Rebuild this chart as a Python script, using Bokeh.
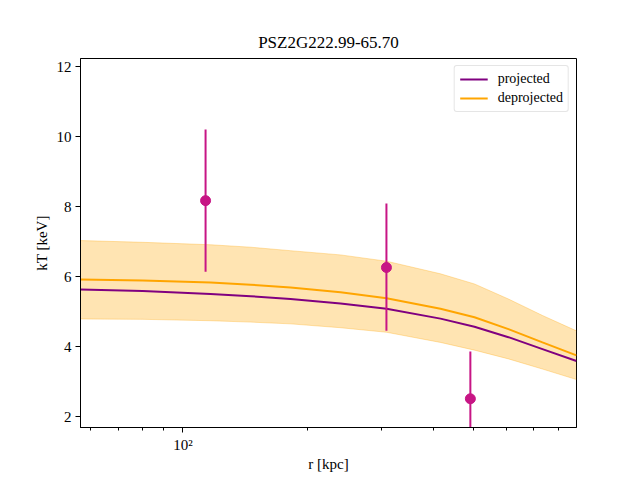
from bokeh.plotting import figure
from bokeh.models import Range1d, FixedTicker, ColumnDataSource, Legend, LegendItem
from bokeh.embed import file_html
from bokeh.resources import INLINE

title = "PSZ2G222.99-65.70"

# model curves (radius in kpc)
r_model = [56.7, 80, 116.6, 145.6, 181.6, 239.6, 309.2, 416.9, 503.3, 607.6, 733.7, 885.8]
kt_projected = [5.63, 5.59, 5.50, 5.44, 5.36, 5.23, 5.08, 4.80, 4.57, 4.27, 3.93, 3.59]
kt_deprojected = [5.92, 5.89, 5.83, 5.77, 5.69, 5.55, 5.38, 5.08, 4.84, 4.50, 4.12, 3.75]
kt_deproj_upper = [7.03, 6.98, 6.91, 6.84, 6.74, 6.62, 6.44, 6.08, 5.79, 5.36, 4.89, 4.45]
kt_deproj_lower = [4.79, 4.78, 4.74, 4.70, 4.65, 4.54, 4.41, 4.12, 3.90, 3.65, 3.36, 3.06]

# measured points
r_data = [113.4, 309.0, 492.0]
kt_data = [8.17, 6.26, 2.51]
kt_data_lo = [6.14, 4.45, 1.15]
kt_data_hi = [10.2, 8.09, 3.86]

y_ticks = [2, 4, 6, 8, 10, 12]
x_major = [100]
x_minor = [60, 70, 80, 90, 200, 300, 400, 500, 600, 700, 800]

FONT = "Liberation Serif"

p = figure(width=640, height=480, x_axis_type="log", output_backend="svg",
           toolbar_location=None, title=title,
           x_range=Range1d(56.7, 886), y_range=Range1d(1.69, 12.23),
           min_border_left=80, min_border_right=64, min_border_top=58,
           min_border_bottom=53)
p.background_fill_color = "white"
p.border_fill_color = "white"
p.outline_line_color = "black"
p.outline_line_width = 1
p.xgrid.visible = False
p.ygrid.visible = False

p.title.align = "center"
p.title.text_font = FONT
p.title.text_font_size = "17px"
p.title.text_font_style = "normal"
p.title.text_color = "black"
p.title.standoff = 13

for ax in (p.xaxis[0], p.yaxis[0]):
    ax.major_label_text_font = FONT
    ax.major_label_text_font_size = "15px"
    ax.major_label_text_color = "black"
    ax.axis_label_text_font = FONT
    ax.axis_label_text_font_size = "15px"
    ax.axis_label_text_font_style = "normal"
    ax.axis_label_text_color = "black"
    ax.major_tick_in = 0
    ax.major_tick_out = 5
    ax.minor_tick_in = 0
    ax.minor_tick_out = 3
    ax.axis_line_color = "black"
    ax.major_tick_line_color = "black"
    ax.minor_tick_line_color = "black"
    ax.major_label_standoff = 4

p.xaxis.ticker = FixedTicker(ticks=x_major, minor_ticks=x_minor)
p.xaxis.major_label_overrides = {100: "10²"}
p.xaxis.axis_label = "r [kpc]"
p.xaxis.axis_label_standoff = 0
p.yaxis.ticker = FixedTicker(ticks=y_ticks, minor_ticks=[])
p.yaxis.axis_label = "kT [keV]"
p.yaxis.axis_label_standoff = 4

src = ColumnDataSource(dict(r=r_model, proj=kt_projected, deproj=kt_deprojected,
                            up=kt_deproj_upper, lo=kt_deproj_lower))

p.varea(x="r", y1="lo", y2="up", source=src, fill_color="orange", fill_alpha=0.3)
p.line(x="r", y="up", source=src, line_color="orange", line_alpha=0.3, line_width=1)
p.line(x="r", y="lo", source=src, line_color="orange", line_alpha=0.3, line_width=1)
l_proj = p.line(x="r", y="proj", source=src, line_color="purple", line_width=2)
l_deproj = p.line(x="r", y="deproj", source=src, line_color="orange", line_width=2)

dsrc = ColumnDataSource(dict(r=r_data, kt=kt_data, lo=kt_data_lo, hi=kt_data_hi))
p.segment(x0="r", y0="lo", x1="r", y1="hi", source=dsrc,
          line_color="mediumvioletred", line_width=2)
p.scatter(x="r", y="kt", source=dsrc, size=10, fill_color="mediumvioletred",
          line_color="mediumvioletred")

legend = Legend(items=[LegendItem(label="projected", renderers=[l_proj]),
                       LegendItem(label="deprojected", renderers=[l_deproj])],
                location="top_right")
legend.label_text_font = FONT
legend.label_text_font_size = "14px"
legend.label_text_color = "black"
legend.border_line_color = "#cccccc"
legend.border_line_width = 1
legend.border_radius = 3
legend.glyph_width = 28
legend.glyph_height = 14
legend.label_height = 14
legend.spacing = 3
legend.padding = 5
legend.margin = 7
legend.label_standoff = 10
p.add_layout(legend)

open("out.html", "w").write(file_html(p, INLINE))
